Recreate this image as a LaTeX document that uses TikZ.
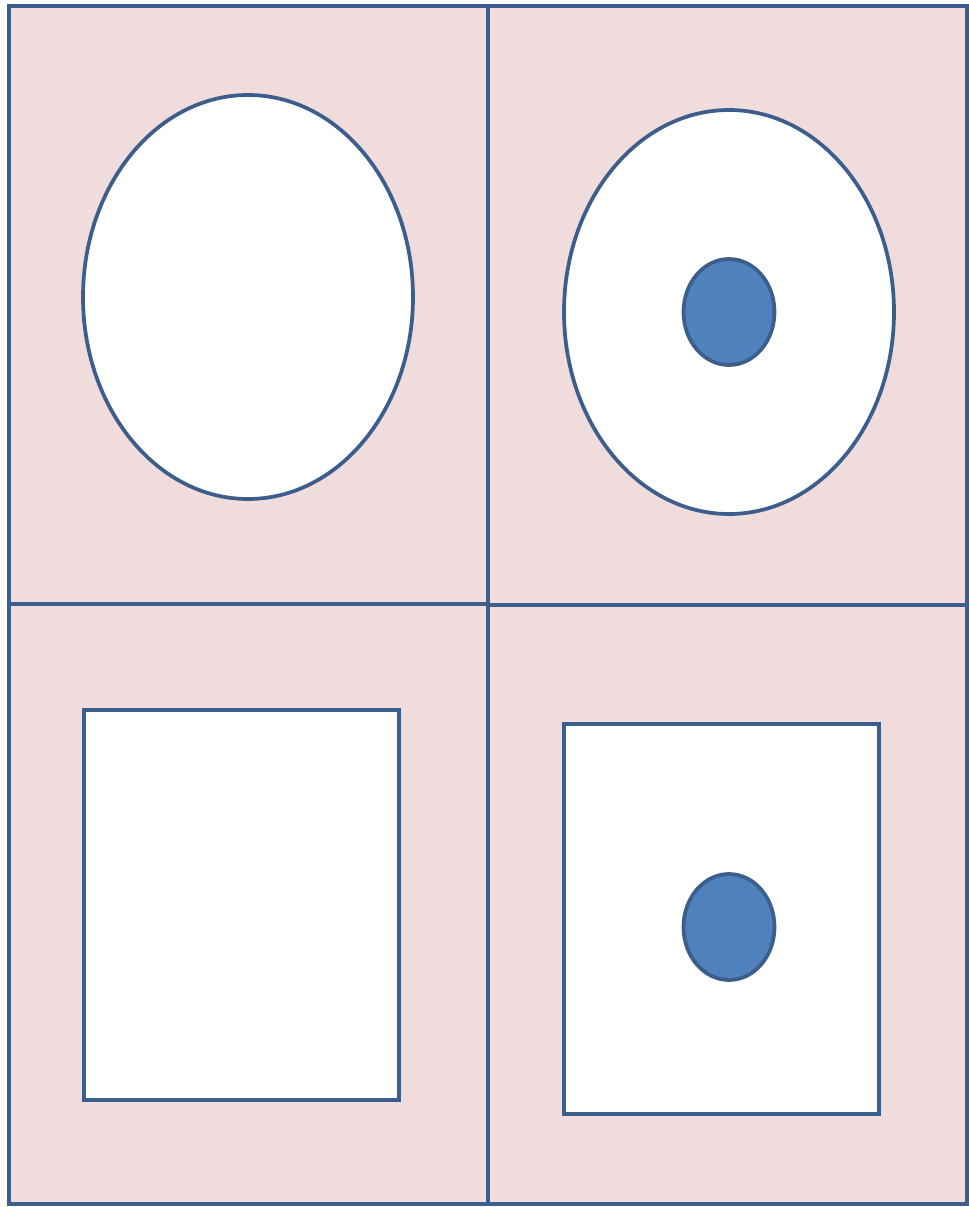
\documentclass[tikz,border=0pt]{standalone}
\definecolor{frameblue}{RGB}{59,94,140}
\definecolor{cellpink}{RGB}{240,220,220}
\definecolor{dotblue}{RGB}{79,129,189}
\tikzset{every picture/.style={line width=2.8pt}}

\begin{document}
\begin{tikzpicture}[x=0.75pt,y=0.75pt,yscale=-1,xscale=1]
\useasboundingbox (0,0) rectangle (969,1207);

%Shape: Rectangle [id:cells]
\draw [color=frameblue, fill=cellpink]  (9,6) rectangle (967,1204) ;
%Straight Lines [id:vsplit]
\draw [color=frameblue]  (488,6) -- (488,1204) ;
%Straight Lines [id:hsplitleft]
\draw [color=frameblue]  (9,604) -- (488,604) ;
%Straight Lines [id:hsplitright]
\draw [color=frameblue]  (488,605) -- (967,605) ;

%Shape: Ellipse [id:cellleft]
\draw [color=frameblue, fill=white]  (248,297) ellipse (165 and 202) ;
%Shape: Ellipse [id:cellright]
\draw [color=frameblue, fill=white]  (729,312) ellipse (165 and 202) ;
%Shape: Ellipse [id:nucleustop]
\draw [color=frameblue, fill=dotblue]  (729,312) ellipse (45.5 and 53) ;

%Shape: Rectangle [id:boxleft]
\draw [color=frameblue, fill=white]  (84,710) rectangle (399,1100) ;
%Shape: Rectangle [id:boxright]
\draw [color=frameblue, fill=white]  (564,724) rectangle (879,1114) ;
%Shape: Ellipse [id:nucleusbottom]
\draw [color=frameblue, fill=dotblue]  (729,927) ellipse (45.5 and 53) ;

\end{tikzpicture}
\end{document}
